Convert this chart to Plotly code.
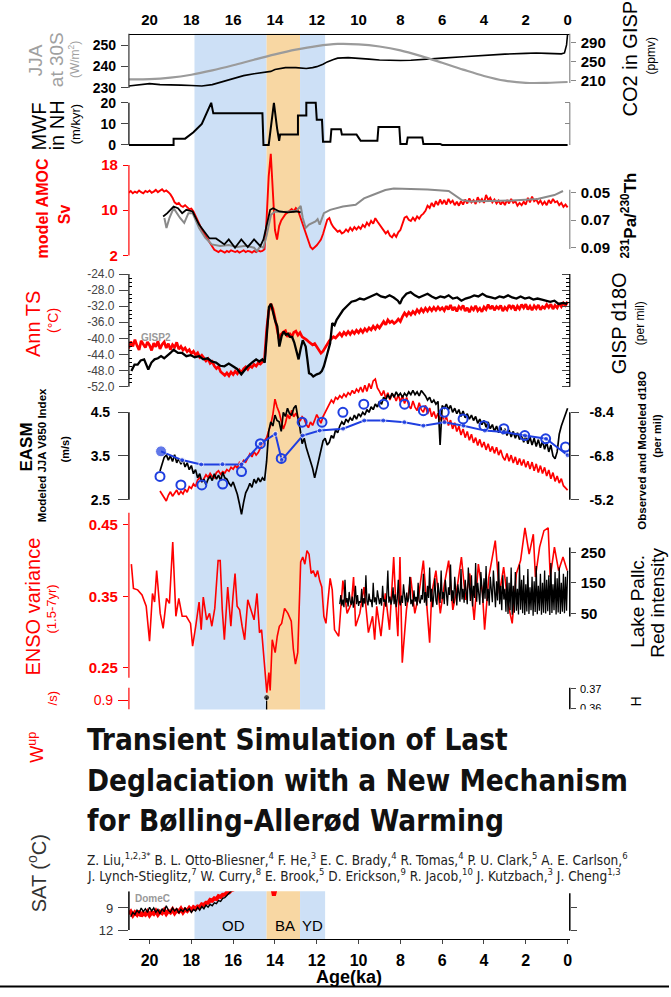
import plotly.graph_objects as go

W, H = 671, 997
def X(px): return px / W
def Y(py): return 1 - py / H
def grid(start, step, vals):
    return [round(start - i * step, 3) for i in range(len(vals))]

RED = '#ff0000'; BLUE = '#1f3fe0'; GREY = '#9b9b9b'
FONT = 'Liberation Sans, Arial, sans-serif'
NARROW = 'Liberation Sans Narrow, DejaVu Sans Condensed, Arial Narrow, sans-serif'

# ---------------- data ----------------
jja_age = [21, 20, 19, 18, 17, 16, 15, 14, 13, 12, 11, 10, 9, 8, 7, 6, 5, 4, 3, 2, 1, 0]
jja_val = [234.0, 234.1, 234.8, 236.2, 238.2, 240.6, 243.2, 245.7, 247.9, 249.6, 250.6, 250.4,
           249.4, 247.6, 244.9, 241.8, 238.6, 235.6, 233.4, 232.4, 232.4, 232.8]

co2_age = [21, 20.5, 20, 19.5, 19, 18.5, 18, 17.5, 17, 16.5, 16, 15.5, 15, 14.5, 14.2, 14, 13.5, 13, 12.8, 12.5,
           12.2, 12, 11.7, 11.5, 11.2, 11, 10.5, 10, 9.5, 9, 8.5, 8, 7.5, 7, 6.5, 6, 5, 4, 3, 2,
           1.5, 1, 0.5, 0.3, 0.15, 0.05, 0]
co2_val = [198, 200, 203, 201, 201, 200, 199, 198, 201, 207, 214, 220, 224, 227, 229, 233, 237, 237, 236, 235,
           237, 239, 244, 249, 254, 257, 258, 257, 255, 253, 252, 252, 252.5, 253.5, 255, 257, 260, 263.5, 265.5, 267,
           268, 267, 267, 266, 268, 285, 308]

mwf_age = [21, 18.85, 18.85, 18.3, 17.9, 17.5, 17.05, 16.95, 14.6, 14.55, 14.3, 14.05, 13.9, 13.8, 13.75, 12.9,
           12.9, 12.5, 12.5, 12.05, 12.0, 11.75, 11.7, 11.35, 11.3, 10.85, 10.8, 10.1, 10.0, 9.9, 9.1, 9.05,
           8.05, 8.0, 7.7, 7.65, 6.95, 6.9, 6.1, 6.0, 0]
mwf_val = [0, 0, 3, 3, 6, 10, 20, 15, 15, 0, 0, 20, 8, 2, 5, 5,
           14, 14, 20, 20, 12, 12, 1.5, 1.5, 7.5, 7.5, 5, 5, 3.5, 2, 2, 8.5,
           8.5, 0.5, 0.5, 3.5, 3.5, 0.5, 0.5, 0, 0]

amoc_val = [13.1, 13.4, 13.0, 13.3, 13.1, 13.5, 13.2, 13.0, 13.4, 13.2, 13.5, 13.1, 13.3, 13.6, 13.2, 13.4, 13.7, 13.3, 13.5, 13.2,
            12.8, 12.2, 11.4, 11.1, 11.3, 10.8, 10.6, 10.9, 10.5, 10.2, 10.3, 9.8, 9.0, 8.3, 7.4, 6.5, 5.9, 5.4, 4.9, 4.3, 3.6,
            3.0, 2.8, 2.6, 2.9, 2.7, 2.5, 2.8, 2.6, 2.9, 2.7, 2.6, 2.8, 2.5, 2.7, 2.9, 2.6, 2.8, 2.7, 2.5, 2.8, 2.6, 2.9, 2.7, 2.8, 3.1,
            8.5, 16.0, 20.0, 12.0, 6.5, 4.8, 7.2, 8.2, 8.8, 9.3, 9.6, 9.9, 10.2, 9.8, 10.4,
            10.0, 8.9, 7.8, 6.8, 5.6, 4.5, 3.5, 3.1, 3.4, 3.8, 4.3, 4.8, 5.8, 7.0, 8.3, 8.6, 7.6, 7.0, 6.6, 6.2,
            6.4, 5.9, 6.1, 6.6, 6.2, 6.9, 6.4, 7.0, 6.6, 7.1, 6.7, 7.4, 7.0, 7.8, 7.3, 8.1, 7.6, 8.6, 8.0, 7.5,
            6.8, 6.4, 5.9, 6.3, 5.5, 5.2, 5.8, 5.3, 6.1, 6.5,
            7.8, 8.7, 8.9, 8.3, 8.1, 8.7, 8.2, 8.9, 8.5, 9.1, 9.4, 9.9, 10.8, 10.4, 11.3, 10.6, 11.6, 10.9, 11.9, 11.1,
            11.8, 11.0, 12.0, 11.3, 11.7, 10.9, 11.5, 10.8, 11.6, 11.0,
            11.9, 11.2, 12.1, 11.4, 11.8, 11.1, 12.3, 11.5, 12.0, 11.3,
            12.7, 11.8, 12.2, 11.4, 11.9, 11.2, 11.7, 11.0, 11.6, 10.9,
            11.8, 11.2, 12.0, 11.3, 11.6, 10.8, 11.3, 10.9, 11.5, 11.0,
            12.2, 11.4, 12.4, 11.6, 11.9, 11.2, 11.7, 11.0, 11.5, 10.9,
            11.8, 11.2, 12.0, 11.4, 11.6, 10.9, 11.3, 10.6, 11.0, 10.5]
amoc_age = grid(21.0, 0.1, amoc_val)

pa_blk_age = [19.35, 19.15, 18.85, 18.64, 18.44, 18.24, 17.94, 17.63, 17.33, 17.13, 16.82, 16.62, 16.42, 16.21,
              15.91, 15.61, 15.3, 15.0, 14.7, 14.55, 14.39, 14.23, 14.09, 13.79, 13.38, 12.98, 12.77]
pa_blk_val = [0.0674, 0.065, 0.0602, 0.0614, 0.065, 0.0626, 0.0638, 0.0733, 0.0793, 0.0833, 0.0833, 0.0852, 0.0876, 0.084,
              0.09, 0.084, 0.0895, 0.084, 0.0888, 0.084, 0.0733, 0.0626, 0.0614, 0.0638, 0.0645, 0.0638, 0.0645]
pa_gry_age = [19.29, 19.19, 19.05, 18.85, 18.54, 18.34, 18.14, 17.94, 17.63, 17.33, 17.02, 16.62, 16.21, 15.81, 15.4,
              15.0, 14.86, 14.7, 14.55, 14.39, 14.19, 13.99, 13.58, 12.98, 12.77, 12.67, 12.53, 12.37, 12.06, 11.96,
              11.86, 11.66, 11.36, 10.75, 10.14, 9.74, 9.33, 8.72, 8.32, 6.7, 5.69, 5.08, 4.68, 2.65, 1.44, 0.63, 0.22]
pa_gry_val = [0.0685, 0.0757, 0.0685, 0.0614, 0.0685, 0.0721, 0.065, 0.065, 0.0757, 0.0829, 0.0876, 0.0888, 0.0881, 0.0895, 0.0886,
              0.09, 0.0924, 0.0888, 0.09, 0.0804, 0.0662, 0.0638, 0.0642, 0.0633, 0.0597, 0.0685, 0.0757, 0.0733, 0.0709, 0.0693,
              0.0733, 0.065, 0.0626, 0.0602, 0.059, 0.0543, 0.0519, 0.0483, 0.0471, 0.0479, 0.049, 0.0554, 0.0566, 0.0559, 0.0547, 0.0519, 0.049]

ts_val = [-42.5, -40.8, -42.0, -40.3, -41.8, -42.9, -40.6, -41.4, -42.3, -40.9, -41.7, -43.0, -41.2, -42.1, -40.7, -42.6,
          -41.5, -40.9, -42.4, -41.3, -42.8, -41.6, -42.2, -41.0, -42.7, -42.0,
          -42.9, -42.4, -43.3, -42.8, -43.8, -43.2, -44.1, -43.6, -44.7, -44.2, -45.0, -45.6, -45.1, -46.2, -45.8, -46.9,
          -47.5, -47.0, -48.3, -48.7, -49.2,
          -48.6, -49.3, -48.4, -49.0, -48.2, -48.8, -47.9, -48.5, -47.6, -47.1, -47.7, -46.8, -47.2, -46.5, -46.9, -46.1,
          -46.4, -45.7, -45.3,
          -38.0, -33.2, -31.4, -32.6, -35.0, -37.2, -40.2, -39.0, -38.4, -38.1, -39.6, -38.7, -39.8, -38.5, -38.2, -39.2,
          -38.6, -39.6, -39.9, -40.3, -40.8, -41.2, -41.6, -41.3, -42.1,
          -42.8, -43.7, -43.2, -42.3, -41.4, -40.6, -40.1, -39.6, -39.9, -39.2,
          -38.7, -39.4, -38.5, -39.1, -38.3, -39.0, -38.2, -38.8, -38.0, -38.6, -37.8, -38.5, -37.6, -38.2, -37.4, -37.9,
          -37.0, -37.7, -36.8, -37.4, -36.5, -35.8, -36.6, -35.4, -36.1, -35.7, -36.3, -35.9, -35.2, -35.8,
          -34.6, -33.7, -34.4, -33.5, -34.1, -33.3, -33.9, -32.9, -33.6, -32.7, -33.4, -32.5, -33.2, -32.4, -33.1, -32.3,
          -33.0, -32.2, -32.9, -32.4,
          -33.1, -32.0, -32.8, -31.7, -33.0, -32.2, -33.3, -32.1, -32.7, -31.8,
          -33.2, -32.4, -33.5, -32.3, -32.9, -31.9, -33.1, -32.5, -33.4, -32.2,
          -32.8, -31.6, -32.7, -31.9, -33.0, -32.1, -32.6, -31.8, -33.2, -32.3,
          -32.9, -31.7, -32.5, -31.8, -33.1, -32.0, -32.7, -31.6, -32.4, -31.5,
          -32.8, -32.0, -33.0, -31.9, -32.6, -31.7, -32.9, -32.1, -32.5, -31.6,
          -32.3, -31.5, -32.7, -31.8, -32.4, -31.3, -32.1, -31.2, -31.8, -30.9]
ts_age = grid(21.0, 0.1, ts_val)

gisp_age = [20.87, 20.72, 20.57, 20.42, 20.26, 20.16, 20.06, 19.91, 19.76, 19.6, 19.45, 19.3, 19.15, 19.0, 18.85, 18.64,
            18.44, 18.24, 18.04, 17.84, 17.63, 17.43, 17.23, 17.02, 16.82, 16.62, 16.42, 16.21, 16.01, 15.81, 15.61,
            15.45, 15.3, 15.1, 14.9, 14.75, 14.6, 14.49, 14.39, 14.29, 14.19, 14.09, 13.99, 13.89, 13.79, 13.68,
            13.58, 13.48, 13.38, 13.28, 13.18, 13.08, 12.98, 12.87, 12.77, 12.67, 12.6, 12.53, 12.45, 12.37, 12.27,
            12.17, 12.0, 11.86, 11.76, 11.66, 11.5, 11.36, 11.26, 11.15, 11.05, 10.9, 10.75, 10.55, 10.34, 10.14,
            9.94, 9.74, 9.53, 9.33, 9.13, 8.93, 8.72, 8.52, 8.32, 8.12, 8.02, 7.91, 7.71, 7.51, 7.31, 7.11, 6.9,
            6.7, 6.5, 6.3, 6.09, 5.89, 5.69, 5.49, 5.28, 5.08, 4.88, 4.68, 4.47, 4.27, 4.07, 3.87, 3.66, 3.46,
            3.26, 3.06, 2.85, 2.65, 2.45, 2.25, 2.04, 1.84, 1.64, 1.44, 1.23, 1.03, 0.83, 0.63, 0.43, 0.22, 0.02]
gisp_val = [-41.6, -41.0, -41.0, -40.6, -40.5, -40.9, -41.45, -40.8, -40.5, -40.4, -40.2, -40.4, -40.1, -39.9, -39.6, -39.9,
            -39.9, -40.2, -40.1, -40.3, -40.2, -40.5, -40.4, -40.7, -40.8, -41.1, -41.15, -40.9, -41.15, -41.4, -41.9,
            -41.5, -41.15, -40.8, -40.5, -40.7, -40.5, -40.8, -38.0, -35.6, -35.3, -36.2, -36.9, -37.4, -39.3, -38.3,
            -37.9, -38.2, -38.1, -38.4, -38.4, -38.9, -39.6, -40.5, -39.5, -38.7, -39.0, -39.3, -40.5, -41.8, -41.9,
            -42.1, -41.9, -41.8, -41.6, -41.15, -40.0, -39.0, -37.1, -37.3, -36.8, -36.4, -35.9, -35.5, -35.1, -35.0,
            -34.8, -34.9, -34.7, -34.5, -34.35, -34.6, -34.7, -34.5, -34.7, -35.0, -35.3, -34.8, -34.35, -34.2, -34.5, -34.7, -34.5,
            -34.35, -34.6, -34.8, -34.6, -34.7, -34.5, -34.8, -34.7, -35.0, -34.8, -34.7, -34.5, -34.6, -34.35, -34.6, -34.7, -34.8,
            -34.6, -34.7, -34.5, -34.7, -34.8, -34.6, -34.8, -34.7, -34.9, -34.8, -34.9, -35.0, -35.1, -35.0, -35.3, -35.2, -35.3]

easm_val = [2.70, 2.62, 2.55, 2.47, 2.60, 2.68, 2.58, 2.66, 2.72, 2.61, 2.69, 2.63, 2.74, 2.67, 2.80, 2.76,
            2.86, 2.80, 2.95, 3.00, 2.92, 2.98, 3.07, 3.01, 3.10, 3.03, 3.00, 3.12, 3.16, 3.08, 3.14, 3.11, 3.19, 3.15, 3.24, 3.20,
            3.28, 3.22, 3.35, 3.30, 3.40, 3.36, 3.45, 3.55, 3.48, 3.60, 3.52, 3.58, 3.68, 3.75, 3.85,
            3.92, 4.05, 4.22, 4.45, 4.80, 4.62, 4.50, 4.30, 4.12, 4.25, 4.45, 4.35, 4.55, 4.40, 4.48, 4.38, 4.30, 4.40, 4.35,
            4.22, 4.15, 4.28, 4.20, 4.32, 4.45,
            4.35, 4.25, 4.40, 4.50, 4.60, 4.70, 4.78, 4.72, 4.84, 4.80, 4.88, 4.83, 4.92, 4.86, 4.95, 4.90, 5.00, 4.93, 5.03, 4.97,
            5.08, 4.96, 5.12, 4.98, 5.16, 5.04, 5.22, 5.26, 5.06, 4.98, 4.88, 5.00, 4.82, 4.95, 4.78, 4.92, 4.88, 4.76, 4.90, 4.74,
            4.88, 4.70, 4.84, 4.66, 4.58, 4.76, 4.62, 4.54, 4.72, 4.56, 4.50, 4.66, 4.46, 4.60, 4.40, 4.52, 4.36, 4.48, 4.32, 4.44,
            4.28, 4.40, 4.20, 4.32, 4.12, 4.26, 4.06, 4.18, 3.98, 4.12, 3.92, 4.06, 3.86, 4.00, 3.80, 3.92, 3.74, 3.88, 3.70, 3.82,
            3.64, 3.78, 3.60, 3.72, 3.56, 3.70, 3.52, 3.64, 3.48, 3.40, 3.56, 3.38, 3.52, 3.34, 3.48, 3.30, 3.44, 3.28, 3.42, 3.24,
            3.38, 3.20, 3.36, 3.16, 3.32, 3.12, 3.28, 3.10, 3.24, 3.04, 3.18, 2.98, 3.12, 2.92, 3.04, 2.88, 2.98, 2.82, 2.78, 2.72]
easm_age = grid(19.5, 0.1, easm_val)

cave_val = [-6.25, -6.55, -6.75, -6.85, -6.65, -6.80, -6.60, -6.85, -6.55, -6.70, -6.50, -6.65, -6.40, -6.55, -6.30, -6.45,
            -6.15, -6.30, -6.00, -6.15, -5.85, -5.95, -5.75, -5.95, -6.05, -5.90, -6.15, -5.95, -6.10, -5.90, -6.20, -6.00,
            -5.95, -5.80, -5.70, -5.85,
            -5.60, -5.40, -5.05, -4.66, -5.10, -5.45, -5.60, -5.80, -5.65, -5.95, -5.80, -6.00, -5.85, -6.00, -5.90,
            -6.60, -7.70, -8.05, -7.90, -8.30, -8.10, -8.05, -7.70, -8.40, -8.25, -8.55, -8.35, -8.30, -8.55, -8.65, -8.20,
            -7.80, -7.25, -7.45, -7.10, -6.85, -6.60, -6.35, -6.00, -6.35,
            -6.70, -7.05, -7.35, -7.45, -7.20, -7.30, -7.55, -7.45, -7.75, -7.65, -7.90, -8.05, -7.95, -8.15, -8.05, -8.20,
            -8.10, -8.30, -8.15, -8.35,
            -8.25, -8.40, -8.30, -8.50, -8.40, -8.60, -8.50, -8.70, -8.60, -8.80, -8.70, -8.95, -8.85, -9.05, -8.90, -9.10,
            -8.95, -9.15, -9.00, -9.10,
            -8.95, -9.10, -9.00, -9.15, -9.05, -9.20, -9.05, -9.15, -9.00, -9.20, -9.10, -9.00, -8.85, -8.95, -8.75, -8.85,
            -8.70, -8.80, -7.20, -8.65,
            -8.55, -8.70, -8.50, -8.65, -8.40, -8.55, -8.35, -8.50, -8.25, -8.45, -8.20, -8.35, -8.15, -8.30, -8.10, -8.25,
            -8.00, -8.15, -7.95, -8.10,
            -7.85, -8.05, -7.80, -7.95, -7.70, -7.90, -7.65, -7.85, -7.60, -7.80, -7.55, -7.75, -7.50, -7.70, -7.45, -7.65,
            -7.40, -7.60, -7.30, -7.55, -7.25, -7.50, -7.20, -7.45, -7.15, -7.40, -7.10, -7.35, -7.05, -7.30, -6.95, -7.20,
            -6.80, -6.70, -6.95, -7.60, -7.90, -8.10, -8.30, -8.55]
cave_age = grid(19.5, 0.1, cave_val)

circ_age = [19.5, 18.5, 17.5, 16.5, 15.6, 14.7, 13.7, 12.7, 11.75, 10.75, 9.75, 8.8, 7.8, 6.9, 5.9, 5.0, 4.0, 3.05, 2.05, 1.05, 0.1]
circ_val = [-6.05, -5.74, -5.74, -5.77, -6.23, -7.25, -6.71, -8.04, -8.04, -8.4, -8.7, -8.7, -8.7, -8.46, -8.4, -8.16,
            -7.91, -7.8, -7.55, -7.43, -7.13]
bl_age = [19.45, 18.44, 17.53, 16.51, 15.6, 14.69, 13.98, 13.68, 12.67, 11.86, 10.74, 9.73, 8.82, 7.81, 6.9, 5.89,
          4.98, 3.96, 3.05, 2.04, 1.03, 0.0]
bl_val = [-6.97, -6.65, -6.49, -6.5, -6.49, -7.25, -7.61, -6.65, -7.55, -7.73, -7.8, -8.1, -8.1, -8.04, -7.91, -8.04,
          -7.91, -7.73, -7.68, -7.55, -7.43, -6.83]

enso_age = [20.87, 20.77, 20.57, 20.36, 20.16, 20.0, 19.86, 19.76, 19.66, 19.49, 19.35, 19.19, 19.05, 18.89, 18.74, 18.6,
            18.44, 18.24, 18.04, 17.94, 17.79, 17.63, 17.53, 17.43, 17.27, 17.13, 17.02, 16.88, 16.72, 16.62, 16.52,
            16.42, 16.26, 16.11, 16.01, 15.91, 15.81, 15.69, 15.57, 15.45, 15.3, 15.16, 15.0, 14.86, 14.74, 14.64,
            14.55, 14.47, 14.39, 14.29, 14.23, 14.13, 13.99, 13.89, 13.79, 13.68, 13.54, 13.38, 13.22, 13.12, 13.02,
            12.91, 12.77, 12.67, 12.57, 12.47, 12.37, 12.27, 12.17, 12.06, 11.96, 11.86, 11.76, 11.66, 11.56, 11.46,
            11.36, 11.26, 11.15, 10.95, 10.75, 10.55, 10.34, 10.24, 10.14, 9.94, 9.74, 9.53, 9.33, 9.23, 9.13, 8.93,
            8.72, 8.52, 8.32, 8.22, 8.12, 8.02, 7.91, 7.71, 7.51, 7.31, 7.11, 6.9, 6.7, 6.6, 6.5, 6.3, 6.09, 5.89,
            5.69, 5.49, 5.28, 5.08, 4.88, 4.68, 4.47, 4.27, 4.07, 3.97, 3.77, 3.46, 3.26, 3.06, 2.85, 2.65, 2.45,
            2.25, 2.04, 1.84, 1.64, 1.54, 1.34, 1.13, 0.93, 0.83, 0.63, 0.43, 0.22, 0.02]
enso_val = [0.395, 0.361, 0.359, 0.352, 0.336, 0.287, 0.354, 0.342, 0.386, 0.326, 0.305, 0.347, 0.340, 0.426, 0.322, 0.347,
            0.322, 0.322, 0.312, 0.280, 0.308, 0.342, 0.303, 0.349, 0.317, 0.326, 0.308, 0.333, 0.400, 0.400, 0.331,
            0.289, 0.363, 0.308, 0.349, 0.382, 0.336, 0.331, 0.308, 0.289, 0.345, 0.331, 0.317, 0.354, 0.299, 0.303,
            0.271, 0.243, 0.215, 0.243, 0.218, 0.289, 0.271, 0.294, 0.308, 0.312, 0.333, 0.326, 0.315, 0.276, 0.255,
            0.271, 0.398, 0.405, 0.395, 0.414, 0.409, 0.382, 0.386, 0.377, 0.386, 0.372, 0.363, 0.322, 0.312, 0.345,
            0.375, 0.359, 0.303, 0.294, 0.372, 0.326, 0.340, 0.377, 0.308, 0.326, 0.363, 0.299, 0.322, 0.289, 0.336, 0.294,
            0.354, 0.303, 0.405, 0.340, 0.294, 0.405, 0.257, 0.331, 0.377, 0.326, 0.354, 0.400, 0.326, 0.285, 0.354, 0.386, 0.326, 0.368,
            0.400, 0.331, 0.363, 0.405, 0.345, 0.382, 0.317, 0.395, 0.354, 0.303, 0.377, 0.428, 0.354, 0.391, 0.340, 0.312, 0.382,
            0.400, 0.446, 0.409, 0.437, 0.377, 0.419, 0.442, 0.446, 0.377, 0.419, 0.386, 0.405, 0.386]

lake_val = [80, 110, 75, 95, 70, 160, 85, 100, 72, 120, 90, 78, 105, 68, 95, 140, 80, 110, 74, 90,
            85, 130, 70, 100, 82, 175, 90, 76, 115, 88, 95, 70, 150, 86, 102, 78, 125, 92, 80,
            100, 75, 140, 88, 96, 72, 110, 190, 85, 105, 78, 95, 135, 80, 112, 70, 98, 160, 90, 76,
            108, 84, 145, 92, 74, 118, 86, 100, 170, 80, 95, 72, 125, 88, 104, 76, 150, 90, 82, 110,
            95, 180, 85, 120, 75, 140, 100, 200, 88, 130, 70, 110, 165, 92, 78, 150, 105, 84, 190, 96,
            120, 80, 160, 98, 75, 135, 110, 210, 90, 125, 82, 170, 100, 76, 145, 118, 88, 195, 95, 130,
            85, 160, 105, 80, 200, 115, 90, 175, 72, 140, 100, 215, 88, 150, 95, 78, 185, 110, 84, 165,
            98, 205, 90, 130, 75, 170, 108, 86, 190, 100, 70, 155, 92, 220, 80, 140, 60, 175, 95, 130,
            55, 170, 48, 150, 60, 200, 45, 140, 52, 185, 58, 130, 46, 210, 62, 160, 50, 175, 44, 145,
            56, 195, 48, 135, 60, 170, 42, 155, 54, 205, 47, 140, 58, 180, 45, 150, 52, 190, 49, 160,
            57, 175, 44, 215, 51, 145, 60, 185, 46, 165, 53, 200, 48, 150, 55, 180, 50, 170, 58, 190]
lake_age = grid(10.9, 0.05, lake_val)

wup_age = [14.41, 14.40, 14.39]
wup_val = [0.80, 0.91, 0.80]

sat_val = [9.8, 9.5, 10.0, 9.6, 9.9, 9.4, 10.1, 9.7, 9.9, 9.5, 10.0, 9.6, 9.8, 9.4, 9.9, 9.5, 9.7, 9.3, 9.8, 9.4,
           9.6, 9.2, 9.7, 9.3, 9.5, 9.1, 9.6, 9.2, 9.4, 9.0, 9.3, 8.9, 9.1, 8.8, 8.9, 8.5, 8.6, 8.3, 8.3, 7.9,
           8.0, 7.7, 7.8, 7.4, 7.5, 7.2, 7.2, 6.9, 6.9, 6.6, 6.5, 6.2, 6.0, 5.7, 5.4, 5.0]
sat_age = grid(21.0, 0.1, sat_val) + [14.25, 14.15, 14.05, 13.95, 13.85]
sat_val = sat_val + [4.5, 6.2, 7.3, 6.2, 4.5]
dome_val = [10.2, 9.6, 9.9, 9.3, 9.7, 9.0, 9.5, 9.1, 9.6, 8.9, 9.4, 9.0, 9.6, 9.2, 9.8, 9.1, 9.5, 8.7, 9.3, 9.6,
            9.0, 9.4, 9.1, 9.7, 9.2, 9.5, 9.0, 9.4, 9.1, 9.6, 9.2, 9.4, 8.9, 9.3, 8.8, 9.1, 8.6, 8.9, 8.5, 8.7,
            8.3, 8.4, 8.0, 8.1, 7.7, 7.6, 7.3, 7.0, 6.8, 6.4]
dome_age = grid(20.9, 0.1, dome_val)

bands = [(17.85, 14.4, '#cde0f6'), (14.4, 12.8, '#f8d7a3'), (12.8, 11.6, '#cde0f6')]
periods = [('OD', 16.0), ('BA', 13.5), ('YD', 12.2)]
age_ticks = [20, 18, 16, 14, 12, 10, 8, 6, 4, 2, 0]

# ---------------- figure ----------------
fig = go.Figure()
def add(x, y, ya, color, width, xa='x', mode='lines', **kw):
    n = min(len(x), len(y))
    fig.add_trace(go.Scatter(x=x[:n], y=y[:n], xaxis=xa, yaxis=ya, mode=mode,
                             line=dict(color=color, width=width), hoverinfo='skip', showlegend=False, **kw))

add(jja_age, jja_val, 'y', GREY, 2.2, xa='x2', line_shape='spline')
add(co2_age, co2_val, 'y2', 'black', 1.6)
add(mwf_age, mwf_val, 'y3', 'black', 2)
fig.add_trace(go.Scatter(x=[], y=[], xaxis='x', yaxis='y4', showlegend=False))
add(pa_gry_age, pa_gry_val, 'y6', '#8a8a8a', 2)
add(pa_blk_age, pa_blk_val, 'y6', 'black', 1.8)
add(amoc_age, amoc_val, 'y5', RED, 1.9)
add(ts_age, ts_val, 'y7', RED, 2.7)
add(gisp_age, gisp_val, 'y8', 'black', 2.3)
add(easm_age, easm_val, 'y9', RED, 1.7)
add(cave_age, cave_val, 'y10', 'black', 1.7)
add(bl_age, bl_val, 'y10', BLUE, 2, mode='lines+markers',
    marker=dict(size=[11] + [5] * (len(bl_age) - 1), color=BLUE))
add(circ_age, circ_val, 'y10', BLUE, 2, mode='markers',
    marker=dict(size=9, color='rgba(0,0,0,0)', line=dict(color=BLUE, width=2)))
add(lake_age, lake_val, 'y12', 'black', 1.3)
add(enso_age, enso_val, 'y11', RED, 1.6)
add(wup_age, wup_val, 'y13', 'black', 1.2, mode='lines+markers', marker=dict(size=[0, 6, 0], color='black'))
fig.add_trace(go.Scatter(x=[], y=[], xaxis='x', yaxis='y14', showlegend=False))
add(sat_age, sat_val, 'y15', RED, 4)
add(dome_age, dome_val, 'y15', 'black', 1.4)
fig.add_trace(go.Scatter(x=[], y=[], xaxis='x', yaxis='y16', showlegend=False))

XD = [X(129.3), X(571.5)]
XR = [20.987, -0.105]

def yax(v1, p1, v2, p2, ptop, pbot, **kw):
    s = (v2 - v1) / (p2 - p1)
    d = dict(domain=[Y(pbot), Y(ptop)], range=[v1 + (pbot - p1) * s, v1 + (ptop - p1) * s],
             anchor='x', showgrid=False, zeroline=False, showline=False, fixedrange=True,
             tickmode='array', ticklabelstandoff=2)
    d.update(kw)
    return d

def tf(size, color='black', bold=True):
    return dict(size=size, color=color, family=FONT, weight='bold' if bold else 'normal')

ts_ticks = [-24, -28, -32, -36, -40, -44, -48, -52]
gisp_ticks = [-32.5 - 1.5 * k for k in range(8)]
layout = dict(
    width=W, height=H, margin=dict(l=0, r=0, t=0, b=0), paper_bgcolor='white', plot_bgcolor='rgba(0,0,0,0)',
    showlegend=False, font=dict(family=FONT, color='black'),
    xaxis=dict(domain=XD, range=XR, anchor='free', position=Y(946.7), showline=True, linecolor='black', linewidth=1.2,
               ticks='outside', ticklen=4, tickvals=age_ticks, tickfont=tf(16), showgrid=False, zeroline=False,
               ticklabelstandoff=2, fixedrange=True),
    xaxis2=dict(domain=XD, range=XR, anchor='free', position=Y(30), side='top', showline=True, linecolor='black',
                linewidth=1, ticks='', tickvals=age_ticks, tickfont=tf(15), showgrid=False, zeroline=False,
                ticklabelstandoff=3, fixedrange=True),
    yaxis=yax(250, 41.7, 230, 85, 30, 85, anchor='x2', tickvals=[230, 240, 250], ticks='outside', ticklen=7, tickfont=tf(14)),
    yaxis2=yax(290, 39, 210, 77.3, 30, 85, side='right', tickvals=[210, 250, 290], ticks='outside', ticklen=5,
               tickcolor='#888', tickfont=tf(15)),
    yaxis3=yax(20, 100, 0, 142.7, 96, 147, tickvals=[0, 10, 20], ticks='outside', ticklen=7, tickfont=tf(14)),
    yaxis4=yax(20, 100, 0, 142.7, 96, 147, side='right', tickvals=[10, 20], ticks='inside', ticklen=5,
               tickcolor='#888', showticklabels=False),
    yaxis5=yax(18, 163, 2, 254.5, 145, 262, tickvals=[2, 10, 18], ticks='outside', ticklen=5, tickcolor=RED,
               tickfont=tf(15, RED)),
    yaxis6=yax(0.05, 190.7, 0.09, 246.7, 145, 262, side='right', tickvals=[0.05, 0.07, 0.09],
               ticktext=['0.05', '0.07', '0.09'], ticks='outside', ticklen=5, tickcolor='#888', tickfont=tf(15)),
    yaxis7=yax(-24, 273.3, -52, 387.3, 266, 394, tickvals=ts_ticks, ticktext=['%.1f' % v for v in ts_ticks],
               ticks='outside', ticklen=9, tickfont=tf(12, '#444', False),
               minor=dict(tickvals=[v for v in range(-51, -24) if v % 4 != 0], ticks='inside', ticklen=3, tickcolor='black')),
    yaxis8=yax(-32.5, 273.3, -43.0, 386.7, 266, 394, side='right', tickvals=gisp_ticks, ticks='inside', ticklen=8,
               showticklabels=False,
               minor=dict(tickvals=[-32.5 - 0.375 * k for k in range(29) if k % 4 != 0], ticks='inside', ticklen=4,
                          tickcolor='black')),
    yaxis9=yax(4.5, 413.3, 2.5, 501.7, 374, 545, tickvals=[2.5, 3.5, 4.5], ticktext=['2.5', '3.5', '4.5'],
               ticks='outside', ticklen=10, tickfont=tf(14), ticklabelstandoff=5),
    yaxis10=yax(-8.4, 413.3, -5.2, 501.7, 374, 545, side='right', tickvals=[-8.4, -6.8, -5.2],
                ticktext=['-8.4', '-6.8', '-5.2'], ticks='outside', ticklen=8, tickfont=tf(14), ticklabelstandoff=8),
    yaxis11=yax(0.45, 527.3, 0.25, 671.7, 505, 708, tickvals=[0.25, 0.35, 0.45], ticktext=['0.25', '0.35', '0.45'],
                ticks='outside', ticklen=5, tickcolor=RED, tickfont=tf(15, RED)),
    yaxis12=yax(250, 555, 50, 616.7, 505, 708, side='right', tickvals=[50, 150, 250], ticks='outside', ticklen=5,
                tickfont=tf(15)),
    yaxis13=yax(0.9, 705, 0.8, 735, 688, 716, tickvals=[0.9], ticktext=['0.9'], ticks='outside', ticklen=10,
                tickcolor=RED, tickfont=tf(14, RED, False)),
    yaxis14=yax(0.37, 693, 0.36, 713, 688, 716, side='right', tickvals=[0.36, 0.37], ticktext=['0.36', '0.37'],
                ticks='outside', ticklen=5, tickfont=tf(11, 'black', False)),
    yaxis15=yax(9, 915, 12, 937.3, 860, 942, tickvals=[9, 12], ticks='outside', ticklen=10,
                tickfont=tf(13, '#333', False)),
    yaxis16=yax(9, 915, 12, 937.3, 860, 942, side='right', tickvals=[9, 12], ticks='outside', ticklen=6,
                showticklabels=False),
)
fig.update_layout(**layout)

shapes = []
for a0, a1, c in bands:
    shapes.append(dict(type='rect', xref='x', yref='paper', x0=a0, x1=a1, y0=Y(946.7), y1=Y(30),
                       fillcolor=c, line=dict(width=0), layer='below'))
def vline(xpx, p0, p1, color, w=1.2):
    shapes.append(dict(type='line', xref='paper', yref='paper', x0=X(xpx), x1=X(xpx), y0=Y(p0), y1=Y(p1),
                       line=dict(color=color, width=w), layer='above'))
xl, xr = 129.3, 571.5
vline(xl, 30, 85, '#333')
vline(xr, 30, 80, '#888')
vline(xl, 100, 142.7, 'black')
vline(xr, 100, 142.7, '#888')
vline(xl, 163, 254.5, RED)
vline(xr, 188, 248, '#888')
vline(xl, 273.3, 387.3, 'black')
vline(xr, 273.3, 387.3, 'black')
vline(xl, 413.3, 501.7, 'black', 1.5)
vline(xr, 413.3, 501.7, 'black', 1.5)
vline(xl, 515, 682, RED)
vline(xr, 550, 620, 'black', 1.5)
vline(xl, 692, 714, RED)
vline(xr, 692, 714, 'black', 1.5)
vline(xl, 898, 937.3, 'black', 1.5)
vline(xr, 900, 938, 'black', 1.5)
# title box and bottom rule
shapes.append(dict(type='rect', xref='paper', yref='paper', x0=X(58), x1=1, y0=Y(898), y1=Y(714),
                   fillcolor='white', line=dict(width=0), layer='above'))
shapes.append(dict(type='line', xref='paper', yref='paper', x0=0, x1=1, y0=Y(994.5), y1=Y(994.5),
                   line=dict(color='black', width=2), layer='above'))
fig.update_layout(shapes=shapes)

ann = []
def lab(text, xpx, ypx, size, color='black', angle=-90, family=FONT, xanchor='center', xref='paper'):
    ann.append(dict(text=text, x=X(xpx) if xref == 'paper' else xpx, y=Y(ypx), xref=xref, yref='paper',
                    showarrow=False, textangle=angle, xanchor=xanchor, yanchor='middle',
                    font=dict(size=size, color=color, family=family)))
LG = '#a0a0a0'
lab('JJA', 35, 57, 19, LG)
lab('at 30S', 56, 56, 19, LG)
lab('(W/m<sup>2</sup>)', 75, 56, 12, LG)
lab('MWF', 39, 124, 20)
lab('in NH', 57, 123, 20)
lab('(m/kyr)', 76, 122, 13)
lab('<b>model AMOC</b>', 43, 207, 16, RED)
lab('<b>Sv</b>', 65, 213, 16, RED)
lab('Ann TS', 33, 324, 20, RED)
lab('(°C)', 53, 320, 14, RED)
lab('<b>EASM</b>', 27, 448, 17)
lab('<b>Modeled JJA V850 Index</b>', 43, 457, 11.5)
lab('<b>(m/s)</b>', 65, 450, 11)
lab('ENSO variance', 33, 610, 20, RED)
lab('(1.5-7yr)', 52, 612, 13, RED)
lab('W<sup>up</sup>', 37, 752, 18, RED)
lab('/s)', 53, 703, 13, RED)
lab('SAT (<sup>o</sup>C)', 37, 880, 20, '#333')
lab('CO2 in GISP', 632, 55, 20)
lab('(ppmv)', 653, 53, 12)
lab('<b><sup>231</sup>Pa/<sup>230</sup>Th</b>', 631, 214, 17)
lab('GISP d18O', 621, 323, 20)
lab('(per mil)', 642, 323, 12)
lab('<b>Observed and Modeled d18O</b>', 643, 452, 11.5)
lab('<b>(per mil)</b>', 659, 437, 11)
lab('Lake Pallc.', 640, 605, 19)
lab('Red intensity', 660, 606, 19)
lab('H', 637, 706, 14)
lab('<b>GISP2</b>', 139, 338, 10, '#999', angle=0, xanchor='left')
lab('<b>DomeC</b>', 133, 905, 10, '#999', angle=0, xanchor='left')
for t, a in periods:
    lab(t, a, 933, 15, 'black', angle=0, xref='x')
lab('<b>Age(ka)</b>', 350, 985, 18, angle=0)
titles = ['Transient Simulation of Last', 'Deglaciation with a New Mechanism', 'for Bølling-Allerød Warming']
for i, t in enumerate(titles):
    lab('<b>' + t + '</b>', 85, 745 + 41 * i, 29.5, '#111', angle=0, family=NARROW, xanchor='left')
authors = ['Z. Liu,<sup>1,2,3*</sup> B. L. Otto-Bliesner,<sup>4</sup> F. He,<sup>3</sup> E. C. Brady,<sup>4</sup> '
           'R. Tomas,<sup>4</sup> P. U. Clark,<sup>5</sup> A. E. Carlson,<sup>6</sup>',
           'J. Lynch-Stieglitz,<sup>7</sup> W. Curry,<sup>8</sup> E. Brook,<sup>5</sup> D. Erickson,<sup>9</sup> '
           'R. Jacob,<sup>10</sup> J. Kutzbach,<sup>3</sup> J. Cheng<sup>1,3</sup>']
for i, t in enumerate(authors):
    lab(t, 85, 865 + 17 * i, 13.5, '#222', angle=0, family=NARROW, xanchor='left')
fig.update_layout(annotations=ann)

fig.write_html('out.html')
